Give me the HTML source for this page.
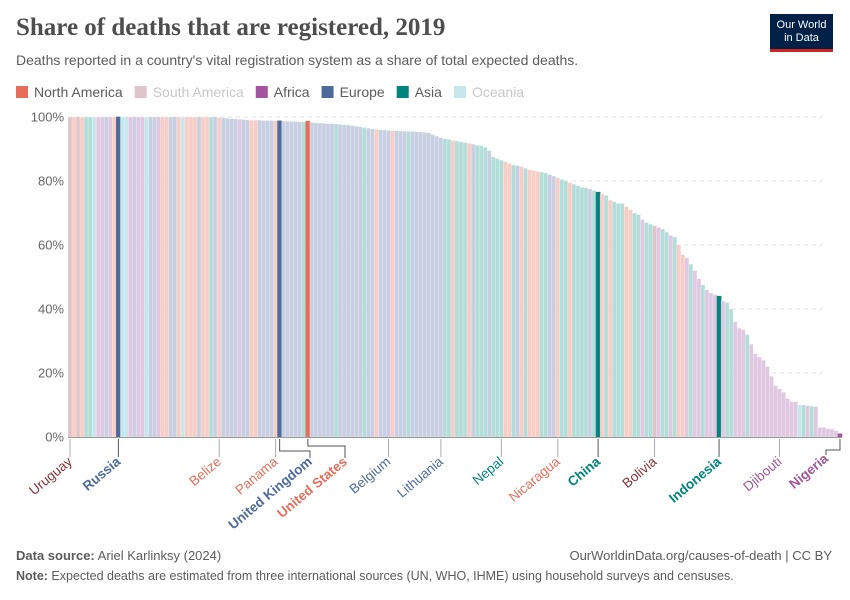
<!DOCTYPE html>
<html><head><meta charset="utf-8">
<style>
body{margin:0;background:#fff;font-family:"Liberation Sans",sans-serif}
#wrap{position:relative;width:850px;height:600px;overflow:hidden}
.t{position:absolute;white-space:nowrap}
</style></head><body>
<div id="wrap">
<div class="t" style="left:16px;top:14px;font-family:'Liberation Serif',serif;font-size:25px;font-weight:bold;color:#4e4e4e">Share of deaths that are registered, 2019</div>
<div class="t" style="left:16px;top:52px;font-size:14px;color:#5b5b5b">Deaths reported in a country's vital registration system as a share of total expected deaths.</div>
<div style="position:absolute;left:770px;top:14px;width:63px;height:38px;background:#002147;border-bottom:3px solid #ce261e;box-sizing:border-box;color:#fff;font-size:11px;line-height:13px;text-align:center;padding-top:5px">Our World<br>in Data</div>
<svg id="c" width="850" height="600" style="position:absolute;left:0;top:0"></svg>
<div class="t" style="left:16px;top:548px;font-size:13px;color:#5b5b5b"><b>Data source:</b> Ariel Karlinksy (2024)</div>
<div class="t" style="right:18px;top:548px;font-size:13px;color:#5b5b5b">OurWorldinData.org/causes-of-death | CC BY</div>
<div class="t" style="left:16px;top:569px;font-size:12.5px;color:#5b5b5b"><b>Note:</b> Expected deaths are estimated from three international sources (UN, WHO, IHME) using household surveys and censuses.</div>
</div>
<script>
const values=[100,100,100,100,100,100,100,100,100,100,100,100,100,100,100,100,100,100,100,100,100,100,100,100,100,100,100,100,100,100,100,100,100,100,100,100,100,
99.8,99.7,99.6,99.5,99.4,99.3,99.2,99.1,99.0,99.0,99.0,98.9,98.9,98.9,98.8,98.8,
98.7,98.7,98.6,98.6,98.5,98.5,98.7,98.3,98.2,98.1,98.0,97.9,97.9,97.8,97.7,97.6,97.5,
97.3,97.1,96.9,96.7,96.5,96.3,96.1,96.0,95.9,95.8,95.7,95.7,95.6,95.6,95.5,95.5,95.4,95.3,95.2,95.0,
94.5,94.0,93.5,93.2,93.0,92.7,92.5,92.2,92.0,91.8,91.5,91.2,91.0,90.5,89.5,87.5,87.0,86.5,86.0,85.5,
85.0,84.8,84.5,84.0,83.5,83.3,83.0,82.8,82.5,82.0,81.5,81.0,80.5,80.0,79.5,79.0,78.5,78.0,77.8,77.5,
77.0,76.5,76.0,75.5,74.0,73.5,73.0,73.0,72.0,71.0,70.0,69.5,68.0,67.0,66.5,66.0,65.5,65.0,64.0,63.0,
62.5,60,57,56,54,52,49.5,47.5,46,45,44.5,44,42.5,42,40,36,34,33.5,32,29,
26,25,24,22,19,16,15,14,12,11,11,10,10,9.8,9.6,9.5,3,3,2.6,2.5,2,1];
const regions=("SNSNXXOA"+"AEANEOOA"+"EAAOEEAN"+"NEENONNN"+"ENNXENEE"+"EEAEENNE"+"EEENEEEE"+"EEXNEEEE"+"EEXEEEEE"+"EXEENEEE"+"NEEEXEEE"+"EEEEEXXN"+"XXXNEXXX"+"EXXXNNXE"+"NXNNNXXE"+"ENXXNXXX"+"XEXXNXNX"+"XXNNXXAX"+"XSAXXAXN"+"NAXAAXAA"+"AXAXXAAA"+"XAAAAAAA"+"AAAAAOXA"+"XAAAAAAA").split("");
const highlighted=[12,52,59,131,161,191];
const labelNames=["Uruguay","Russia","Belize","Panama","United Kingdom","United States","Belgium","Lithuania","Nepal","Nicaragua","China","Bolivia","Indonesia","Djibouti","Nigeria"];
const labelIdx=[0,12,37,51,52,59,79,92,107,121,131,145,161,176,191];
const yTicks=[0,20,40,60,80,100];
const legendNames=["North America","South America","Africa","Europe","Asia","Oceania"];
const legendKeys=["N","S","A","E","X","O"];

const full={N:"#e56e5a",S:"#883039",A:"#a2559c",E:"#4c6a9c",X:"#00847e",O:"#6fc3cf"};
const faded={N:"#f7cdc5",S:"#dfc5ca",A:"#e0c8e2",E:"#c8cfe2",X:"#b3ddd8",O:"#c6e8ec"};
const svg=document.getElementById('c');const NS="http://www.w3.org/2000/svg";
function mk(t,a,p){const e=document.createElementNS(NS,t);for(const k in a)e.setAttribute(k,a[k]);(p||svg).appendChild(e);return e;}
const x0=68,x1=842,y0=437,y1=117;
const bw=(x1-x0)/values.length;
const X=i=>x0+i*bw, Y=v=>y0-(v/100)*(y0-y1);
let lx=16;
legendNames.forEach((n,i)=>{
 const g=mk('g',{});
 
 
 mk('rect',{x:lx,y:86,width:12,height:12,fill:i==1||i==5?faded[legendKeys[i]]:full[legendKeys[i]]},g);
 const t=mk('text',{x:lx+18,y:97,'font-size':14,fill:i==1||i==5?'#c8c8c8':'#5b5b5b'},g);t.textContent=n;
 lx+=18+t.getComputedTextLength()+12;
});
yTicks.forEach(v=>{
 const l=mk('line',{x1:x0,x2:822,y1:Y(v),y2:Y(v),stroke:'#e2e2e2','stroke-dasharray':'4,4'});
 
 
 const t=mk('text',{x:64,y:Y(v)+4.5,'text-anchor':'end','font-size':13,fill:'#666'});
 
 
 t.textContent=v+'%';
});
values.forEach((v,i)=>{
 const h=highlighted.includes(i);const k=regions[i];
 const r=mk('rect',{x:X(i),y:Y(v),width:bw,height:y0-Y(v),fill:h?full[k]:faded[k],stroke:h?full[k]:'#ffffff','stroke-opacity':h?1:0.35,'stroke-width':0.6});
 
 
});
mk('line',{x1:x0,x2:x1,y1:y0+0.5,y2:y0+0.5,stroke:'#999'});
labelNames.forEach((n,j)=>{
 const i=labelIdx[j];const cx=X(i)+bw/2;const k=regions[i];const h=highlighted.includes(i);
 let tx=cx, ty=457;
 let path;
 if(n==="United Kingdom"){tx=310;path=`M${cx},439V451H${tx}V458`;}
 else if(n==="United States"){tx=345;path=`M${cx},439V446H${tx}V458`;}
 else if(n==="Nigeria"){tx=826;path=`M${cx},439V450H${tx}V455`;ty=454;}
 else path=`M${cx},439V457`;
 const p=mk('path',{d:path,fill:'none',stroke:h?'#555':'#aaa','stroke-width':1});
 
 
 const t=mk('text',{x:tx+3,y:ty+6,'text-anchor':'end','font-size':13.5,'font-weight':h?'bold':'normal',fill:full[k],transform:`rotate(-40 ${tx+3} ${ty+6})`});
 
 
 t.textContent=n;
});
</script>
</body></html>
